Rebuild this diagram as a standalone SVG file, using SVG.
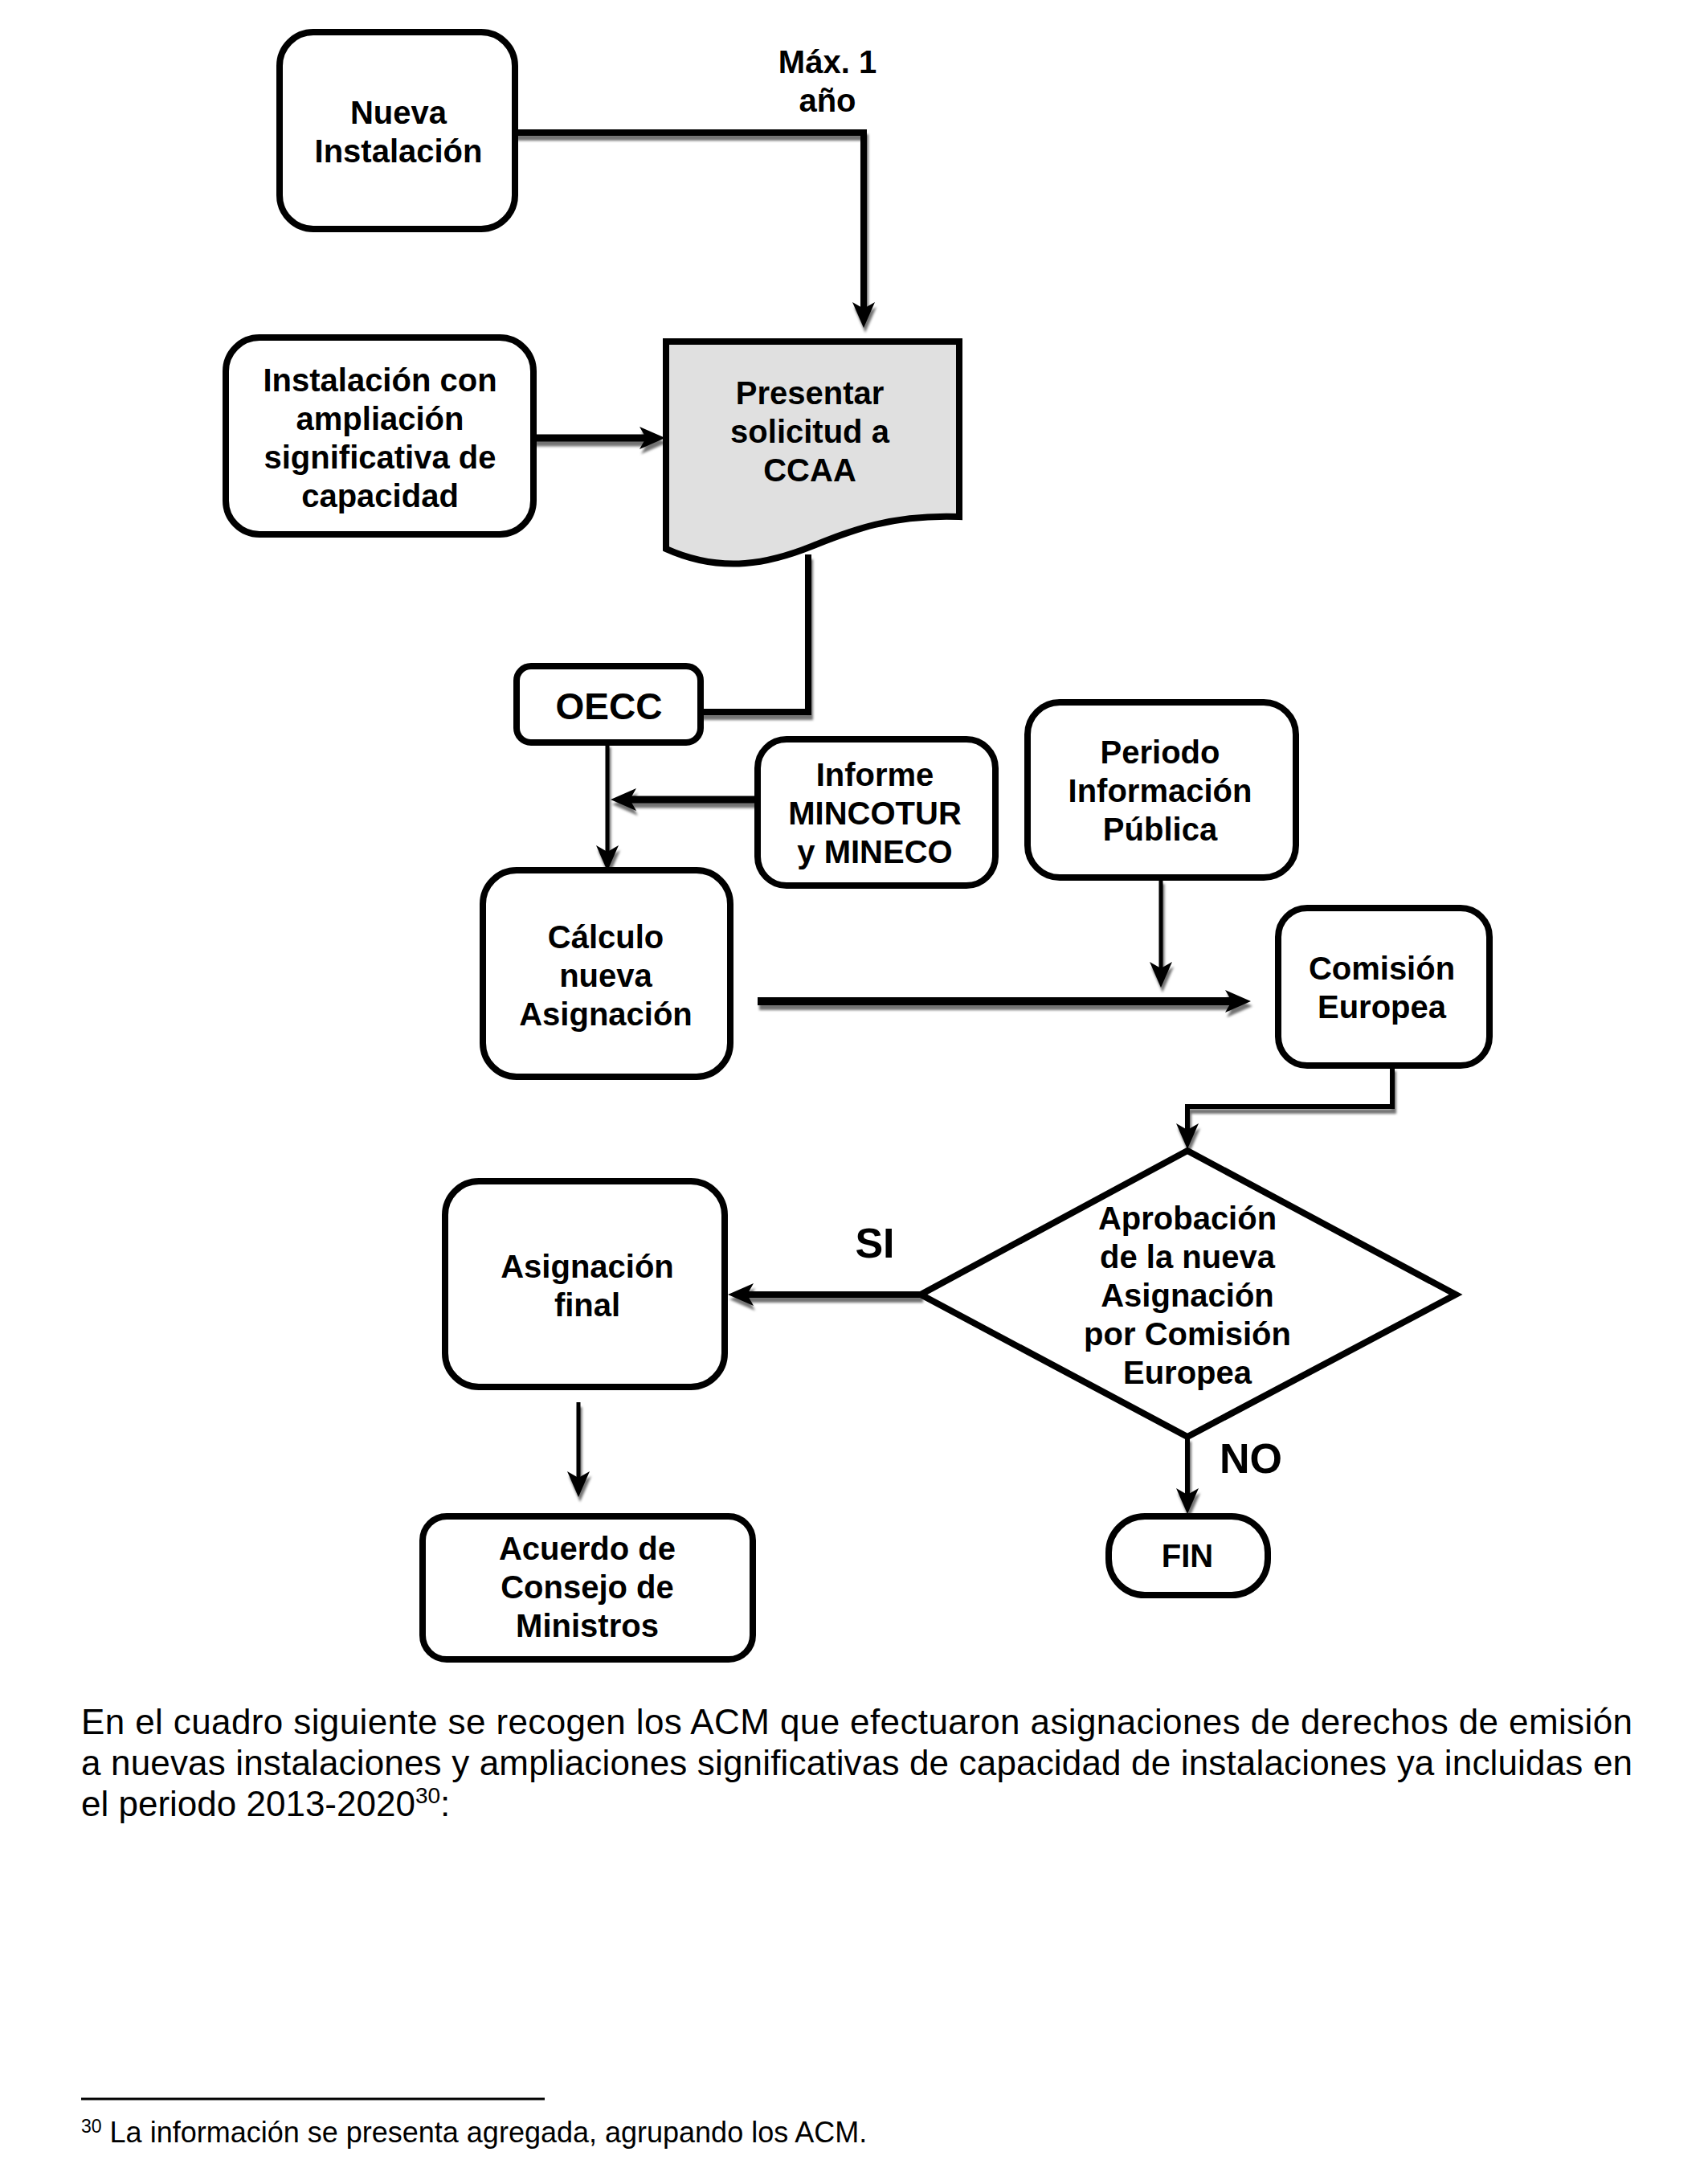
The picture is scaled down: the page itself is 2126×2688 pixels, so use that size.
<svg xmlns="http://www.w3.org/2000/svg" width="2126" height="2688" viewBox="0 0 2126 2688">
<style>
.box{fill:#fff;stroke:#000;stroke-width:8}
.doc{fill:#e0e0e0;stroke:#000;stroke-width:8;stroke-linejoin:miter}
.t{font-family:"Liberation Sans",Arial,sans-serif;font-weight:bold;font-size:40px;text-anchor:middle;fill:#000}
.c{fill:none;stroke:#000;stroke-linejoin:miter}
.body{font-family:"Liberation Sans",Arial,sans-serif;font-size:44px;fill:#000}
.fn{font-family:"Liberation Sans",Arial,sans-serif;font-size:36px;fill:#000}
</style>
<defs>
<filter id="sh" x="-20%" y="-20%" width="140%" height="140%">
<feDropShadow dx="2" dy="6" stdDeviation="1.5" flood-color="#000" flood-opacity="0.55"/>
</filter>
<marker id="ah" markerUnits="userSpaceOnUse" viewBox="0 0 32 30" markerWidth="32" markerHeight="30" refX="8" refY="15" orient="auto">
<path d="M0,1 L32,15 L0,29 L8,15 Z" fill="#000"/>
</marker>
</defs>

<rect width="2126" height="2688" fill="#fff"/>

<g id="connectors" filter="url(#sh)">
<path class="c" stroke-width="8" d="M641,165 H1075 V384" marker-end="url(#ah)"/>
<path class="c" stroke-width="9" d="M664,545 H804" marker-end="url(#ah)"/>
<path class="c" stroke-width="8" d="M1006,690 V886 H872"/>
<path class="c" stroke-width="5" d="M756,924 V1060" marker-end="url(#ah)"/>
<path class="c" stroke-width="9" d="M943,995 H784" marker-end="url(#ah)"/>
<path class="c" stroke-width="5" d="M1445,1094 V1205" marker-end="url(#ah)"/>
<path class="c" stroke-width="10" d="M943,1246 H1533" marker-end="url(#ah)"/>
<path class="c" stroke-width="6" d="M1733,1327 V1377 H1478 V1406" marker-end="url(#ah)"/>
<path class="c" stroke-width="8" d="M1147,1611 H930" marker-end="url(#ah)"/>
<path class="c" stroke-width="5" d="M720,1745 V1839" marker-end="url(#ah)"/>
<path class="c" stroke-width="6" d="M1478,1788 V1860" marker-end="url(#ah)"/>
</g>

<g id="nueva-instalacion">
<rect class="box" x="348" y="40" width="293" height="245" rx="42"/>
<text class="t" x="496" y="154">Nueva</text>
<text class="t" x="496" y="202">Instalación</text>
</g>

<g id="label-max">
<text class="t" x="1030" y="91">Máx. 1</text>
<text class="t" x="1030" y="139">año</text>
</g>

<g id="instalacion-ampliacion">
<rect class="box" x="281" y="420" width="383" height="245" rx="42"/>
<text class="t" x="473" y="487">Instalación con</text>
<text class="t" x="473" y="535">ampliación</text>
<text class="t" x="473" y="583">significativa de</text>
<text class="t" x="473" y="631">capacidad</text>
</g>

<g id="presentar-solicitud">
<path class="doc" d="M829,425 H1194 V643 C1110,640 1060,660 1010,680 C960,700 900,715 829,683 Z"/>
<text class="t" x="1008" y="503">Presentar</text>
<text class="t" x="1008" y="551">solicitud a</text>
<text class="t" x="1008" y="599">CCAA</text>
</g>

<g id="oecc">
<rect class="box" x="643" y="829" width="229" height="95" rx="18"/>
<text class="t" x="758" y="895" style="font-size:46px">OECC</text>
</g>

<g id="informe">
<rect class="box" x="943" y="920" width="296" height="182" rx="36"/>
<text class="t" x="1089" y="978">Informe</text>
<text class="t" x="1089" y="1026">MINCOTUR</text>
<text class="t" x="1089" y="1074">y MINECO</text>
</g>

<g id="periodo">
<rect class="box" x="1279" y="874" width="334" height="218" rx="40"/>
<text class="t" x="1444" y="950">Periodo</text>
<text class="t" x="1444" y="998">Información</text>
<text class="t" x="1444" y="1046">Pública</text>
</g>

<g id="calculo">
<rect class="box" x="601" y="1083" width="308" height="257" rx="42"/>
<text class="t" x="754" y="1180">Cálculo</text>
<text class="t" x="754" y="1228">nueva</text>
<text class="t" x="754" y="1276">Asignación</text>
</g>

<g id="comision">
<rect class="box" x="1591" y="1130" width="263" height="196" rx="36"/>
<text class="t" x="1720" y="1219">Comisión</text>
<text class="t" x="1720" y="1267">Europea</text>
</g>

<g id="aprobacion">
<polygon class="box" points="1478,1432 1812,1611 1478,1788 1146,1611"/>
<text class="t" x="1478" y="1530">Aprobación</text>
<text class="t" x="1478" y="1578">de la nueva</text>
<text class="t" x="1478" y="1626">Asignación</text>
<text class="t" x="1478" y="1674">por Comisión</text>
<text class="t" x="1478" y="1722">Europea</text>
</g>

<g id="label-si">
<text class="t" x="1089" y="1565" style="font-size:52px">SI</text>
</g>
<g id="label-no">
<text class="t" x="1557" y="1833" style="font-size:52px">NO</text>
</g>

<g id="asignacion-final">
<rect class="box" x="554" y="1470" width="348" height="256" rx="42"/>
<text class="t" x="731" y="1590">Asignación</text>
<text class="t" x="731" y="1638">final</text>
</g>

<g id="acuerdo">
<rect class="box" x="526" y="1887" width="411" height="178" rx="30"/>
<text class="t" x="731" y="1941">Acuerdo de</text>
<text class="t" x="731" y="1989">Consejo de</text>
<text class="t" x="731" y="2037">Ministros</text>
</g>

<g id="fin">
<rect class="box" x="1380" y="1887" width="198" height="98" rx="45"/>
<text class="t" x="1478" y="1950">FIN</text>
</g>

<g id="body-text">
<text class="body" x="101" y="2158" textLength="1931" lengthAdjust="spacing">En el cuadro siguiente se recogen los ACM que efectuaron asignaciones de derechos de emisión</text>
<text class="body" x="101" y="2209" textLength="1931" lengthAdjust="spacing">a nuevas instalaciones y ampliaciones significativas de capacidad de instalaciones ya incluidas en</text>
<text class="body" x="101" y="2260">el periodo 2013-2020<tspan font-size="28" dy="-16">30</tspan><tspan dy="16">:</tspan></text>
</g>

<g id="footnote">
<line x1="101" y1="2612" x2="678" y2="2612" stroke="#000" stroke-width="3"/>
<text class="fn" x="101" y="2666"><tspan font-size="23" dy="-12">30</tspan><tspan dy="12"> La información se presenta agregada, agrupando los ACM.</tspan></text>
</g>
</svg>
